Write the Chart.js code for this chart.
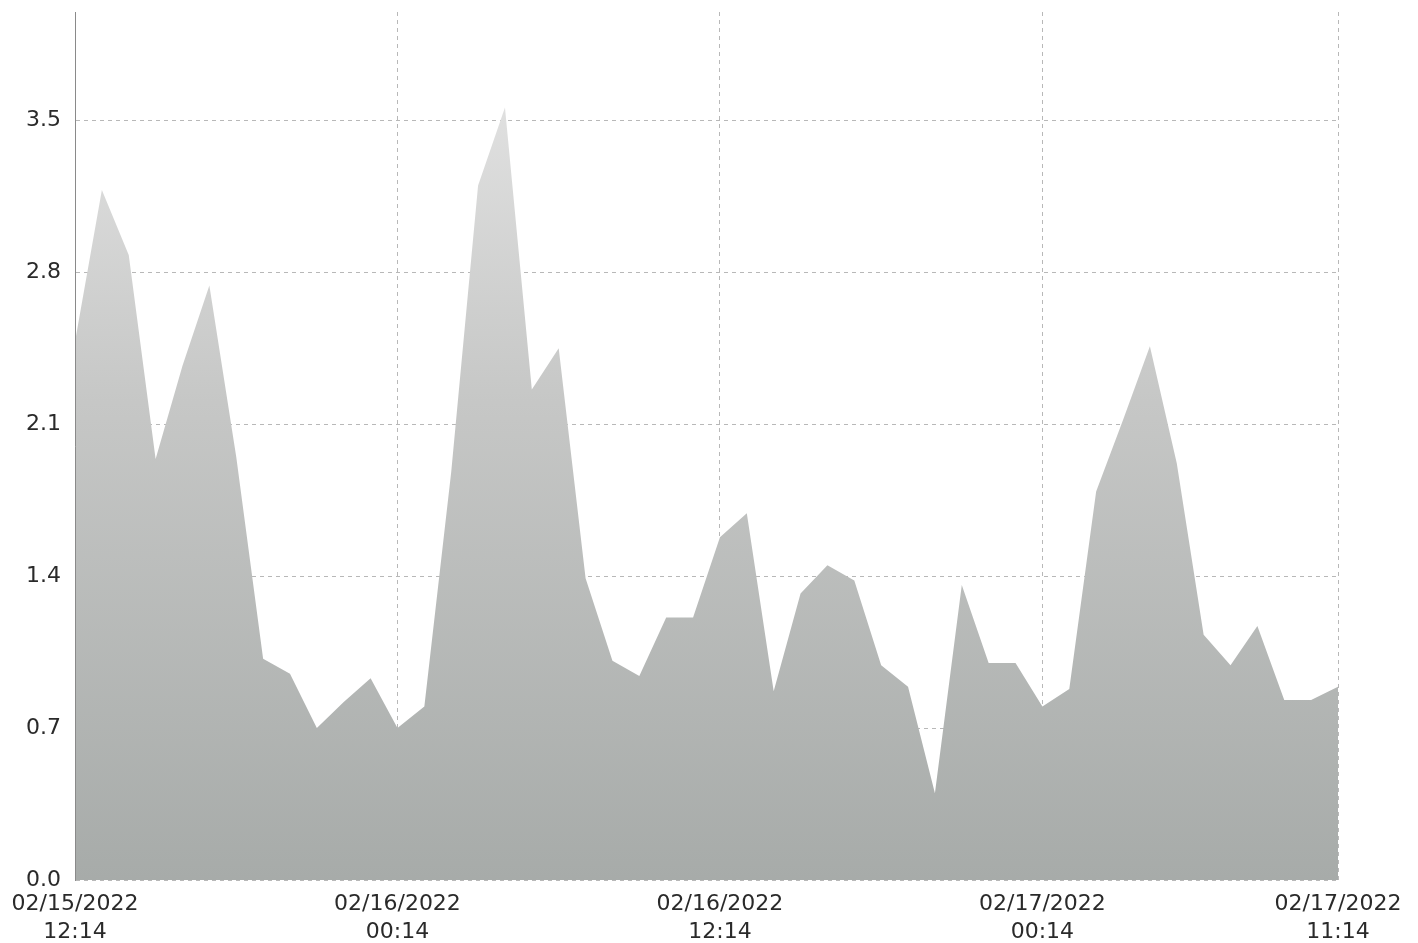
<!DOCTYPE html>
<html>
<head>
<meta charset="utf-8">
<script src="https://cdn.jsdelivr.net/npm/chart.js@4.4.1/dist/chart.umd.min.js"></script>
<style>
	html,body{margin:0;padding:0;background:#fff;}
	#placecanvas{width:1418px;height:943px;}
</style>
</head>
<body>
<div id="placecanvas"><canvas id="loadchart"></canvas></div>
<script>
		// hourly samples, 02/15/2022 12:14 -> 02/17/2022 11:14
		var startHour = 12;
		var hours = [];
		for (var i=0;i<48;i++){
			var h=(startHour+i)%24;
			hours.push((h<10?'0':'')+h+':14');
		}

		var load = [2.48, 3.18, 2.88, 1.94, 2.37, 2.74, 1.95, 1.02, 0.95, 0.70,
					0.82, 0.93, 0.70, 0.80, 1.88, 3.20, 3.56, 2.26, 2.45, 1.39,
					1.01, 0.94, 1.21, 1.21, 1.58, 1.69, 0.87, 1.32, 1.45, 1.38,
					0.99, 0.89, 0.40, 1.36, 1.00, 1.00, 0.80, 0.88, 1.79, 2.12,
					2.46, 1.92, 1.13, 0.99, 1.17, 0.83, 0.83, 0.89];

		var tickIndex = [0, 12, 24, 36, 47];
		var tickDate  = ['02/15/2022', '02/16/2022', '02/16/2022', '02/17/2022', '02/17/2022'];
		var tickTime  = ['12:14', '00:14', '12:14', '00:14', '11:14'];
		var yTicks    = [0, 0.7, 1.4, 2.1, 2.8, 3.5];

		function fillgradient(context){
			var chart=context.chart;
			var area=chart.chartArea;
			if (!area){ return '#b8bab9'; }
			var g=chart.ctx.createLinearGradient(0, area.top, 0, area.bottom);
			g.addColorStop(0, '#e8e8e8');
			g.addColorStop(0.45, '#c6c7c6');
			g.addColorStop(1, '#a7aba9');
			return g;
		}

		var ctx = document.getElementById('loadchart').getContext('2d');
		var myChart = new Chart(ctx, {
			type: 'line',
			data: {
				labels: hours,
				datasets: [{
					label: 'load',
					data: load,
					fill: 'origin',
					backgroundColor: fillgradient,
					borderWidth: 0,
					pointRadius: 0,
					tension: 0
				}]
			},
			options: {
				responsive: true,
				maintainAspectRatio: false,
				animation: false,
				layout: { padding: { left: 0, right: 80, top: 12, bottom: 0 } },
				plugins: {
					legend: { display: false },
					title: { display: false },
					tooltip: { enabled: false }
				},
				scales: {
					x: {
						offset: false,
						afterFit: function(scale){ scale.height = 63; },
						grid: {
							drawTicks: false,
							color: function(c){
								return (c.index>0 && tickIndex.indexOf(c.index)>=0) ? '#b8b8b8' : 'rgba(0,0,0,0)';
							}
						},
						border: { display: false, dash: [4, 4] },
						ticks: {
							autoSkip: false,
							maxRotation: 0,
							padding: 10,
							color: '#2a2a2a',
							font: { family: 'DejaVu Sans', size: 22, lineHeight: 1.27 },
							callback: function(val, index){
								var k=tickIndex.indexOf(index);
								return k<0 ? '' : [tickDate[k], tickTime[k]];
							}
						}
					},
					y: {
						min: 0,
						max: 4.0,
						afterFit: function(scale){ scale.width = 75; scale.paddingTop = 0; },
						afterBuildTicks: function(scale){
							scale.ticks = yTicks.map(function(v){ return {value: v}; });
						},
						grid: { drawTicks: false, color: '#b8b8b8' },
						border: { display: true, color: '#8a8a8a', width: 1, dash: [4, 4], z: 1 },
						ticks: {
							padding: 14,
							color: '#2a2a2a',
							font: { family: 'DejaVu Sans', size: 22 },
							callback: function(v){ return v.toFixed(1); }
						}
					}
				}
			}
		});
</script>
</body>
</html>
